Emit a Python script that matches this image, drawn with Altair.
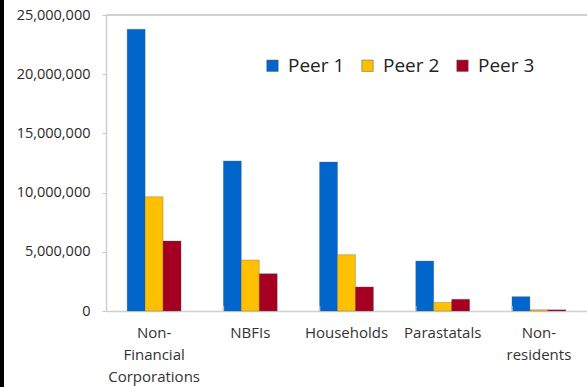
import altair as alt
import pandas as pd

categories = ["Non-|Financial|Corporations", "NBFIs", "Households", "Parastatals", "Non-|residents"]
series = ["Peer 1", "Peer 2", "Peer 3"]
peer1 = [23800000, 12670000, 12580000, 4220000, 1210000]
peer2 = [9650000, 4310000, 4760000, 730000, 110000]
peer3 = [5910000, 3150000, 2030000, 990000, 100000]
colors = ["#0066CC", "#FFC000", "#A50021"]

rows = []
for i, cat in enumerate(categories):
    for name, vals in zip(series, [peer1, peer2, peer3]):
        rows.append({"sector": cat, "peer": name, "value": vals[i]})
df = pd.DataFrame(rows)
cats_df = pd.DataFrame({"sector": categories[1:]})

W, H = 481, 296
FONT = "Open Sans"

xscale = alt.Scale(domain=categories, paddingInner=0.44, paddingOuter=0.22)

bars = alt.Chart(df).mark_bar(stroke="#555555", strokeWidth=0.6, strokeOpacity=0.5).encode(
    x=alt.X("sector:N", sort=categories, scale=xscale,
            axis=alt.Axis(title=None, labelAngle=0, labelExpr="split(datum.label, '|')",
                          labelFont=FONT, labelFontSize=15, labelColor="#333333",
                          labelLineHeight=22, labelPadding=14, ticks=False,
                          domainColor="#d0d0d0", domainWidth=1.5)),
    xOffset=alt.XOffset("peer:N", sort=series, scale=alt.Scale(paddingInner=0, paddingOuter=0)),
    y=alt.Y("value:Q", scale=alt.Scale(domain=[0, 25000000]),
            axis=alt.Axis(title=None, values=[0, 5000000, 10000000, 15000000, 20000000, 25000000],
                          labelExpr="format(datum.value, ',')", grid=False,
                          labelFont=FONT, labelFontSize=14.5,
                          labelColor="#2a2a2a", labelPadding=12, tickSize=4,
                          tickColor="#c8c8c8", domainColor="#d0d0d0", domainWidth=1.5)),
    color=alt.Color("peer:N", sort=series, scale=alt.Scale(domain=series, range=colors),
                    legend=alt.Legend(title=None, orient="none", direction="horizontal",
                                      legendX=157, legendY=41, symbolType="square",
                                      symbolSize=130, symbolStrokeColor="#555555",
                                      symbolStrokeWidth=0.5, labelFont=FONT,
                                      labelFontSize=19, labelColor="#222222",
                                      columnPadding=13, labelOffset=6)),
)

# small upward ticks at the boundaries between sectors
seps = alt.Chart(cats_df).mark_rule(color="#c8c8c8", strokeWidth=1.5).encode(
    x=alt.X("sector:N", sort=categories, scale=xscale, bandPosition=0),
    y=alt.value(H),
    y2=alt.value(H - 5),
)

# top border of the plot frame
top = alt.Chart(cats_df).mark_rule(color="#d0d0d0", strokeWidth=1.5).encode(
    x=alt.value(0), x2=alt.value(W + 10), y=alt.value(0)
)

# dark strip along the left edge
strip = alt.Chart(cats_df).mark_rule(color="#000000", strokeWidth=4).encode(
    x=alt.value(-104), y=alt.value(-20), y2=alt.value(H + 80)
)

chart = alt.layer(bars, seps, top, strip).properties(
    width=W, height=H,
    autosize=alt.AutoSizeParams(type="none"),
    padding={"left": 106, "top": 15, "right": 0, "bottom": 76},
).configure_view(stroke=None).configure(background="white")

chart.save("out.html", embed_options={"renderer": "svg", "actions": False})
